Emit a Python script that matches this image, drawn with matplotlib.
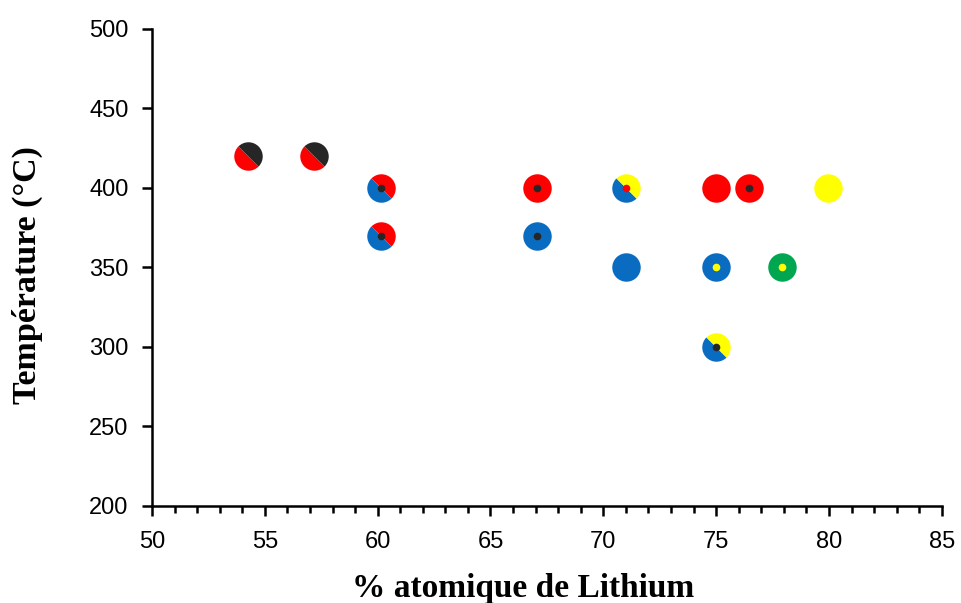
import matplotlib
matplotlib.use("Agg")
import matplotlib.pyplot as plt
from matplotlib.markers import MarkerStyle
from matplotlib.transforms import Affine2D
from matplotlib.ticker import MultipleLocator

# Data
li_pct = [54.25, 57.2, 60.15, 60.15, 67.05, 67.05, 71.0, 71.0, 75.0, 76.45, 79.95, 75.0, 77.9, 75.0]
temp_c = [420, 420, 400, 370, 400, 370, 400, 350, 400, 400, 400, 350, 350, 300]
# main colour (lower-left half), second colour (upper-right half, None = same), centre dot (None = no dot)
col_main = ['red', 'red', 'blue', 'blue', 'red', 'blue', 'blue', 'blue', 'red', 'red', 'yellow', 'blue', 'green', 'blue']
col_alt = ['black', 'black', 'red', 'red', None, None, 'yellow', None, None, None, None, None, None, 'yellow']
col_dot = [None, None, 'black', 'black', 'black', 'black', 'red', None, None, 'black', None, 'yellow', 'yellow', 'black']

palette = {'red': '#FF0000', 'black': '#262626', 'blue': '#0A6CC0',
           'yellow': '#FFFF00', 'green': '#00A650'}

fig = plt.figure(figsize=(9.62, 6.03), dpi=100)
ax = fig.add_axes([0.158, 0.161, 0.821, 0.791])

split_marker = MarkerStyle('o', fillstyle='left', transform=Affine2D().rotate_deg(45))

for x, y, cm, ca, cd in zip(li_pct, temp_c, col_main, col_alt, col_dot):
    if ca is None:
        ax.plot([x], [y], marker='o', markersize=20.5, color=palette[cm],
                markeredgewidth=0, linestyle='none', zorder=3)
    else:
        ax.plot([x], [y], marker=split_marker, markersize=20.5,
                markerfacecolor=palette[cm], markerfacecoloralt=palette[ca],
                markeredgewidth=0, linestyle='none', zorder=3)
    if cd is not None:
        ax.plot([x], [y], marker='o', markersize=5.5, color=palette[cd],
                markeredgewidth=0, linestyle='none', zorder=4)

ax.set_xlim(50, 85)
ax.set_ylim(200, 500)
ax.xaxis.set_major_locator(MultipleLocator(5))
ax.xaxis.set_minor_locator(MultipleLocator(1))
ax.yaxis.set_major_locator(MultipleLocator(50))

for s in ['top', 'right']:
    ax.spines[s].set_visible(False)
for s in ['left', 'bottom']:
    ax.spines[s].set_linewidth(1.8)
    ax.spines[s].set_color('black')

ax.tick_params(axis='both', which='major', direction='out', length=7, width=1.8,
               labelsize=17)
ax.tick_params(axis='x', which='major', pad=11)
ax.tick_params(axis='y', which='major', pad=10)
ax.tick_params(axis='x', which='minor', direction='out', length=5, width=1.8)
for lab in ax.get_xticklabels() + ax.get_yticklabels():
    lab.set_family('Liberation Sans')

ax.set_xlabel('% atomique de Lithium', fontsize=24, fontweight='bold',
              family='Liberation Serif')
ax.set_ylabel('Température (°C)', fontsize=24.5, fontweight='bold',
              family='Liberation Serif')
ax.xaxis.set_label_coords(0.470, -0.140)
ax.yaxis.set_label_coords(-0.138, 0.484)

fig.savefig('out.png', dpi=100)
